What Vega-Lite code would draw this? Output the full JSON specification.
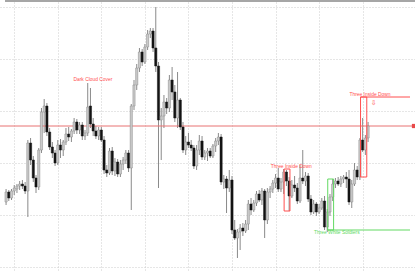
{
  "$schema": "https://vega.github.io/schema/vega-lite/v6.json",
  "width": 415,
  "height": 270,
  "autosize": {"type": "none"},
  "padding": {"left": 0, "top": 2, "right": 0, "bottom": 0},
  "background": "white",
  "config": {"view": {"stroke": null}, "font": "Liberation Sans"},
  "datasets": {
    "candles": [
      {"t":"2025-11-12 02:00","i":0,"o":4053,"h":4066,"l":4050,"c":4063},
      {"t":"2025-11-12 03:00","i":1,"o":4063,"h":4065,"l":4054,"c":4057},
      {"t":"2025-11-12 04:00","i":2,"o":4057,"h":4066,"l":4055,"c":4064},
      {"t":"2025-11-12 05:00","i":3,"o":4064,"h":4070,"l":4060,"c":4067},
      {"t":"2025-11-12 06:00","i":4,"o":4066,"h":4071,"l":4062,"c":4069},
      {"t":"2025-11-12 07:00","i":5,"o":4069,"h":4074,"l":4065,"c":4071},
      {"t":"2025-11-12 08:00","i":6,"o":4071,"h":4075,"l":4066,"c":4069},
      {"t":"2025-11-12 09:00","i":7,"o":4069,"h":4073,"l":4061,"c":4064},
      {"t":"2025-11-12 10:00","i":8,"o":4064,"h":4115,"l":4038,"c":4112},
      {"t":"2025-11-12 11:00","i":9,"o":4112,"h":4117,"l":4090,"c":4095},
      {"t":"2025-11-12 12:00","i":10,"o":4095,"h":4099,"l":4073,"c":4077},
      {"t":"2025-11-12 13:00","i":11,"o":4077,"h":4080,"l":4062,"c":4068},
      {"t":"2025-11-12 14:00","i":12,"o":4068,"h":4107,"l":4065,"c":4105},
      {"t":"2025-11-12 15:00","i":13,"o":4105,"h":4147,"l":4102,"c":4143},
      {"t":"2025-11-12 16:00","i":14,"o":4143,"h":4156,"l":4122,"c":4149},
      {"t":"2025-11-12 17:00","i":15,"o":4149,"h":4152,"l":4119,"c":4123},
      {"t":"2025-11-12 18:00","i":16,"o":4123,"h":4127,"l":4105,"c":4108},
      {"t":"2025-11-12 19:00","i":17,"o":4108,"h":4113,"l":4097,"c":4102},
      {"t":"2025-11-12 20:00","i":18,"o":4102,"h":4105,"l":4089,"c":4092},
      {"t":"2025-11-12 21:00","i":19,"o":4092,"h":4115,"l":4090,"c":4110},
      {"t":"2025-11-12 22:00","i":20,"o":4110,"h":4116,"l":4097,"c":4105},
      {"t":"2025-11-12 23:00","i":21,"o":4105,"h":4115,"l":4099,"c":4113},
      {"t":"2025-11-13 00:00","i":22,"o":4113,"h":4127,"l":4110,"c":4121},
      {"t":"2025-11-13 01:00","i":23,"o":4121,"h":4128,"l":4114,"c":4118},
      {"t":"2025-11-13 02:00","i":24,"o":4118,"h":4126,"l":4113,"c":4124},
      {"t":"2025-11-13 03:00","i":25,"o":4124,"h":4137,"l":4121,"c":4133},
      {"t":"2025-11-13 04:00","i":26,"o":4133,"h":4136,"l":4121,"c":4125},
      {"t":"2025-11-13 05:00","i":27,"o":4125,"h":4133,"l":4121,"c":4130},
      {"t":"2025-11-13 06:00","i":28,"o":4130,"h":4133,"l":4115,"c":4119},
      {"t":"2025-11-13 07:00","i":29,"o":4119,"h":4125,"l":4115,"c":4122},
      {"t":"2025-11-13 08:00","i":30,"o":4122,"h":4172,"l":4119,"c":4148},
      {"t":"2025-11-13 09:00","i":31,"o":4149,"h":4167,"l":4127,"c":4131},
      {"t":"2025-11-13 10:00","i":32,"o":4131,"h":4137,"l":4119,"c":4124},
      {"t":"2025-11-13 11:00","i":33,"o":4124,"h":4129,"l":4116,"c":4119},
      {"t":"2025-11-13 12:00","i":34,"o":4119,"h":4128,"l":4115,"c":4125},
      {"t":"2025-11-13 13:00","i":35,"o":4125,"h":4128,"l":4113,"c":4115},
      {"t":"2025-11-13 14:00","i":36,"o":4115,"h":4119,"l":4081,"c":4085},
      {"t":"2025-11-13 15:00","i":37,"o":4085,"h":4090,"l":4078,"c":4082},
      {"t":"2025-11-13 16:00","i":38,"o":4082,"h":4107,"l":4080,"c":4104},
      {"t":"2025-11-13 17:00","i":39,"o":4104,"h":4108,"l":4080,"c":4084},
      {"t":"2025-11-13 18:00","i":40,"o":4084,"h":4097,"l":4079,"c":4093},
      {"t":"2025-11-13 19:00","i":41,"o":4093,"h":4096,"l":4078,"c":4081},
      {"t":"2025-11-13 20:00","i":42,"o":4081,"h":4095,"l":4078,"c":4091},
      {"t":"2025-11-13 21:00","i":43,"o":4091,"h":4098,"l":4085,"c":4095},
      {"t":"2025-11-13 22:00","i":44,"o":4095,"h":4105,"l":4091,"c":4102},
      {"t":"2025-11-13 23:00","i":45,"o":4102,"h":4105,"l":4083,"c":4087},
      {"t":"2025-11-14 00:00","i":46,"o":4087,"h":4151,"l":4045,"c":4149},
      {"t":"2025-11-14 01:00","i":47,"o":4149,"h":4175,"l":4145,"c":4170},
      {"t":"2025-11-14 02:00","i":48,"o":4170,"h":4191,"l":4165,"c":4187},
      {"t":"2025-11-14 03:00","i":49,"o":4187,"h":4207,"l":4183,"c":4203},
      {"t":"2025-11-14 04:00","i":50,"o":4203,"h":4206,"l":4189,"c":4193},
      {"t":"2025-11-14 05:00","i":51,"o":4193,"h":4211,"l":4191,"c":4208},
      {"t":"2025-11-14 06:00","i":52,"o":4208,"h":4225,"l":4205,"c":4221},
      {"t":"2025-11-14 07:00","i":53,"o":4221,"h":4227,"l":4217,"c":4224},
      {"t":"2025-11-14 08:00","i":54,"o":4224,"h":4227,"l":4203,"c":4207},
      {"t":"2025-11-14 09:00","i":55,"o":4207,"h":4248,"l":4183,"c":4189},
      {"t":"2025-11-14 10:00","i":56,"o":4189,"h":4193,"l":4067,"c":4135},
      {"t":"2025-11-14 11:00","i":57,"o":4135,"h":4147,"l":4095,"c":4139},
      {"t":"2025-11-14 12:00","i":58,"o":4139,"h":4160,"l":4127,"c":4153},
      {"t":"2025-11-14 13:00","i":59,"o":4153,"h":4157,"l":4141,"c":4147},
      {"t":"2025-11-14 14:00","i":60,"o":4147,"h":4180,"l":4143,"c":4175},
      {"t":"2025-11-14 15:00","i":61,"o":4175,"h":4188,"l":4155,"c":4163},
      {"t":"2025-11-14 16:00","i":62,"o":4163,"h":4170,"l":4133,"c":4137},
      {"t":"2025-11-14 17:00","i":63,"o":4137,"h":4183,"l":4127,"c":4155},
      {"t":"2025-11-14 18:00","i":64,"o":4155,"h":4157,"l":4125,"c":4128},
      {"t":"2025-11-14 19:00","i":65,"o":4128,"h":4133,"l":4102,"c":4105},
      {"t":"2025-11-14 20:00","i":66,"o":4105,"h":4119,"l":4100,"c":4113},
      {"t":"2025-11-14 21:00","i":67,"o":4113,"h":4122,"l":4107,"c":4110},
      {"t":"2025-11-14 22:00","i":68,"o":4110,"h":4115,"l":4104,"c":4107},
      {"t":"2025-11-14 23:00","i":69,"o":4107,"h":4110,"l":4086,"c":4089},
      {"t":"2025-11-17 00:00","i":70,"o":4089,"h":4110,"l":4085,"c":4105},
      {"t":"2025-11-17 01:00","i":71,"o":4105,"h":4120,"l":4100,"c":4114},
      {"t":"2025-11-17 02:00","i":72,"o":4114,"h":4119,"l":4095,"c":4098},
      {"t":"2025-11-17 03:00","i":73,"o":4098,"h":4105,"l":4095,"c":4102},
      {"t":"2025-11-17 04:00","i":74,"o":4102,"h":4107,"l":4094,"c":4104},
      {"t":"2025-11-17 05:00","i":75,"o":4104,"h":4107,"l":4097,"c":4099},
      {"t":"2025-11-17 06:00","i":76,"o":4099,"h":4111,"l":4097,"c":4109},
      {"t":"2025-11-17 07:00","i":77,"o":4109,"h":4117,"l":4103,"c":4114},
      {"t":"2025-11-17 08:00","i":78,"o":4114,"h":4122,"l":4110,"c":4118},
      {"t":"2025-11-17 09:00","i":79,"o":4118,"h":4121,"l":4070,"c":4073},
      {"t":"2025-11-17 10:00","i":80,"o":4073,"h":4080,"l":4066,"c":4076},
      {"t":"2025-11-17 11:00","i":81,"o":4076,"h":4079,"l":4042,"c":4067},
      {"t":"2025-11-17 12:00","i":82,"o":4067,"h":4085,"l":4063,"c":4075},
      {"t":"2025-11-17 13:00","i":83,"o":4075,"h":4079,"l":4021,"c":4025},
      {"t":"2025-11-17 14:00","i":84,"o":4025,"h":4035,"l":4015,"c":4017},
      {"t":"2025-11-17 15:00","i":85,"o":4017,"h":4026,"l":3997,"c":4023},
      {"t":"2025-11-17 16:00","i":86,"o":4023,"h":4031,"l":4005,"c":4027},
      {"t":"2025-11-17 17:00","i":87,"o":4027,"h":4032,"l":4019,"c":4024},
      {"t":"2025-11-17 18:00","i":88,"o":4024,"h":4035,"l":4022,"c":4031},
      {"t":"2025-11-17 19:00","i":89,"o":4031,"h":4055,"l":4025,"c":4051},
      {"t":"2025-11-17 20:00","i":90,"o":4051,"h":4057,"l":4040,"c":4045},
      {"t":"2025-11-17 21:00","i":91,"o":4045,"h":4055,"l":4043,"c":4052},
      {"t":"2025-11-17 22:00","i":92,"o":4052,"h":4064,"l":4049,"c":4061},
      {"t":"2025-11-17 23:00","i":93,"o":4061,"h":4065,"l":4053,"c":4055},
      {"t":"2025-11-18 00:00","i":94,"o":4055,"h":4067,"l":4050,"c":4064},
      {"t":"2025-11-18 01:00","i":95,"o":4064,"h":4066,"l":4017,"c":4035},
      {"t":"2025-11-18 02:00","i":96,"o":4035,"h":4067,"l":4031,"c":4063},
      {"t":"2025-11-18 03:00","i":97,"o":4063,"h":4069,"l":4057,"c":4066},
      {"t":"2025-11-18 04:00","i":98,"o":4066,"h":4075,"l":4062,"c":4072},
      {"t":"2025-11-18 05:00","i":99,"o":4072,"h":4081,"l":4067,"c":4077},
      {"t":"2025-11-18 06:00","i":100,"o":4077,"h":4087,"l":4063,"c":4066},
      {"t":"2025-11-18 07:00","i":101,"o":4066,"h":4077,"l":4063,"c":4073},
      {"t":"2025-11-18 08:00","i":102,"o":4073,"h":4086,"l":4061,"c":4083},
      {"t":"2025-11-18 09:00","i":103,"o":4083,"h":4085,"l":4069,"c":4074},
      {"t":"2025-11-18 10:00","i":104,"o":4074,"h":4078,"l":4044,"c":4059},
      {"t":"2025-11-18 11:00","i":105,"o":4059,"h":4075,"l":4057,"c":4070},
      {"t":"2025-11-18 12:00","i":106,"o":4070,"h":4079,"l":4063,"c":4067},
      {"t":"2025-11-18 13:00","i":107,"o":4067,"h":4072,"l":4051,"c":4054},
      {"t":"2025-11-18 14:00","i":108,"o":4054,"h":4090,"l":4052,"c":4077},
      {"t":"2025-11-18 15:00","i":109,"o":4077,"h":4105,"l":4071,"c":4074},
      {"t":"2025-11-18 16:00","i":110,"o":4074,"h":4083,"l":4069,"c":4079},
      {"t":"2025-11-18 17:00","i":111,"o":4079,"h":4082,"l":4053,"c":4056},
      {"t":"2025-11-18 18:00","i":112,"o":4056,"h":4060,"l":4040,"c":4043},
      {"t":"2025-11-18 19:00","i":113,"o":4043,"h":4055,"l":4041,"c":4051},
      {"t":"2025-11-18 20:00","i":114,"o":4051,"h":4053,"l":4039,"c":4043},
      {"t":"2025-11-18 21:00","i":115,"o":4043,"h":4051,"l":4041,"c":4047},
      {"t":"2025-11-18 22:00","i":116,"o":4047,"h":4057,"l":4045,"c":4054},
      {"t":"2025-11-18 23:00","i":117,"o":4054,"h":4059,"l":4025,"c":4028},
      {"t":"2025-11-19 00:00","i":118,"o":4028,"h":4046,"l":4023,"c":4043},
      {"t":"2025-11-19 01:00","i":119,"o":4043,"h":4061,"l":4039,"c":4058},
      {"t":"2025-11-19 02:00","i":120,"o":4058,"h":4076,"l":4054,"c":4071},
      {"t":"2025-11-19 03:00","i":121,"o":4071,"h":4077,"l":4067,"c":4074},
      {"t":"2025-11-19 04:00","i":122,"o":4074,"h":4078,"l":4069,"c":4071},
      {"t":"2025-11-19 05:00","i":123,"o":4071,"h":4079,"l":4068,"c":4076},
      {"t":"2025-11-19 06:00","i":124,"o":4076,"h":4080,"l":4072,"c":4078},
      {"t":"2025-11-19 07:00","i":125,"o":4078,"h":4083,"l":4067,"c":4076},
      {"t":"2025-11-19 08:00","i":126,"o":4076,"h":4085,"l":4050,"c":4053},
      {"t":"2025-11-19 09:00","i":127,"o":4053,"h":4075,"l":4047,"c":4071},
      {"t":"2025-11-19 10:00","i":128,"o":4071,"h":4092,"l":4069,"c":4085},
      {"t":"2025-11-19 11:00","i":129,"o":4085,"h":4089,"l":4075,"c":4078},
      {"t":"2025-11-19 12:00","i":130,"o":4078,"h":4117,"l":4075,"c":4115},
      {"t":"2025-11-19 13:00","i":131,"o":4115,"h":4137,"l":4103,"c":4105},
      {"t":"2025-11-19 14:00","i":132,"o":4105,"h":4120,"l":4100,"c":4117},
      {"t":"2025-11-19 15:00","i":133,"o":4117,"h":4133,"l":4113,"c":4129}
    ],
    "boxes": [
      {"pattern":"Three Inside Down","type":"bear","i":102.15,"i2":104.3,"p":4086,"p2":4044},
      {"pattern":"Three White Soldiers","type":"bull","i":118.18,"i2":120.33,"p":4076,"p2":4025},
      {"pattern":"Three Inside Down","type":"bear","i":130.23,"i2":132.52,"p":4158,"p2":4078}
    ],
    "ext": [
      {"type":"bull","i":118.18,"i2":148.4,"p":4025},
      {"type":"bear","i":130.23,"i2":148.4,"p":4158}
    ],
    "notes": [
      {"text":"Dark Cloud Cover","type":"bear","i":31.9,"p":4175},
      {"text":"Three Inside Down","type":"bear","i":104.8,"p":4088},
      {"text":"Three White Soldiers","type":"bull","i":121.5,"p":4022.5},
      {"text":"Three Inside Down","type":"bear","i":133.7,"p":4160}
    ],
    "arrow": [{"text":"⇩","type":"bear","i":135.1,"p":4152}],
    "price": [{"name":"bid","i":148.4,"p":4129}]
  },
  "layer": [
    {
      "data": {"name": "candles"},
      "mark": {"type": "rule", "color": "#8a8a8a", "strokeWidth": 1},
      "encoding": {
        "x": {
          "field": "i", "type": "quantitative",
          "scale": {"domain": [-0.394, 148.4], "nice": false, "zero": false},
          "axis": {
            "orient": "bottom", "title": null,
            "values": [-5, 3, 11, 19, 27, 35, 43, 51, 59, 67, 75, 83, 91, 99, 107, 115, 123, 131],
            "labelExpr": "datum.value < 0 ? '11 Nov 2025' : ['12 Nov 05:00','12 Nov 13:00','12 Nov 21:00','13 Nov 05:00','13 Nov 13:00','13 Nov 21:00','14 Nov 05:00','14 Nov 13:00','14 Nov 21:00','17 Nov 05:00','17 Nov 13:00','17 Nov 21:00','18 Nov 05:00','18 Nov 13:00','18 Nov 21:00','19 Nov 05:00','19 Nov 13:00'][round((datum.value - 3) / 8)]",
            "labelAlign": "left", "labelBaseline": "top", "labelFontSize": 3.4, "labelColor": "#222",
            "labelPadding": 0.5, "labelOverlap": false, "labelFlush": false, "labelBound": false,
            "tickSize": 1.5, "tickColor": "#555", "domainColor": "#444", "domainWidth": 1,
            "grid": true, "gridColor": "#cccccc", "gridDash": [1, 2], "gridWidth": 1
          }
        },
        "y": {
          "field": "l", "type": "quantitative",
          "scale": {"domain": [3983, 4253], "nice": false, "zero": false},
          "axis": {
            "orient": "right", "title": null,
            "values": [3988, 4001, 4014, 4027, 4040, 4053, 4066, 4079, 4092, 4105, 4118, 4131, 4144, 4157, 4170, 4183, 4196, 4209, 4222, 4235, 4248],
            "format": ".2f", "labelFontSize": 3.4, "labelColor": "#222", "labelPadding": 0.5,
            "labelOverlap": false, "labelFlush": false, "labelBound": false,
            "tickSize": 2, "tickColor": "#555", "domainColor": "#444", "domainWidth": 1,
            "grid": true, "gridColor": "#cccccc", "gridDash": [1, 2], "gridWidth": 1
          }
        },
        "y2": {"field": "h"}
      }
    },
    {
      "data": {"name": "price"},
      "mark": {"type": "rule", "color": "#e87272", "strokeWidth": 1},
      "encoding": {
        "y": {"field": "p", "type": "quantitative", "scale": {"domain": [3983, 4253], "nice": false, "zero": false}}
      }
    },
    {
      "data": {"name": "candles"},
      "mark": {"type": "bar", "size": 2.2, "strokeWidth": 0.5},
      "encoding": {
        "x": {"field": "i", "type": "quantitative", "scale": {"domain": [-0.394, 148.4], "nice": false, "zero": false}},
        "y": {"field": "o", "type": "quantitative", "scale": {"domain": [3983, 4253], "nice": false, "zero": false}},
        "y2": {"field": "c"},
        "fill": {"condition": {"test": "datum.c >= datum.o", "value": "#cacaca"}, "value": "#141414"},
        "stroke": {"condition": {"test": "datum.c >= datum.o", "value": "#8a8a8a"}, "value": "#141414"}
      }
    },
    {
      "data": {"name": "boxes"},
      "mark": {"type": "rect", "filled": false, "strokeWidth": 1},
      "encoding": {
        "x": {"field": "i", "type": "quantitative", "scale": {"domain": [-0.394, 148.4], "nice": false, "zero": false}},
        "x2": {"field": "i2"},
        "y": {"field": "p", "type": "quantitative", "scale": {"domain": [3983, 4253], "nice": false, "zero": false}},
        "y2": {"field": "p2"},
        "color": {"field": "type", "type": "nominal", "scale": {"domain": ["bear", "bull"], "range": ["#ff4f4f", "#62d962"]}, "legend": null}
      }
    },
    {
      "data": {"name": "ext"},
      "mark": {"type": "rule", "strokeWidth": 1},
      "encoding": {
        "x": {"field": "i", "type": "quantitative", "scale": {"domain": [-0.394, 148.4], "nice": false, "zero": false}},
        "x2": {"field": "i2"},
        "y": {"field": "p", "type": "quantitative", "scale": {"domain": [3983, 4253], "nice": false, "zero": false}},
        "color": {"field": "type", "type": "nominal", "legend": null}
      }
    },
    {
      "data": {"name": "notes"},
      "mark": {"type": "text", "fontSize": 4.9, "align": "center", "baseline": "middle", "font": "Liberation Sans"},
      "encoding": {
        "x": {"field": "i", "type": "quantitative", "scale": {"domain": [-0.394, 148.4], "nice": false, "zero": false}},
        "y": {"field": "p", "type": "quantitative", "scale": {"domain": [3983, 4253], "nice": false, "zero": false}},
        "text": {"field": "text"},
        "color": {"field": "type", "type": "nominal", "legend": null}
      }
    },
    {
      "data": {"name": "arrow"},
      "mark": {"type": "text", "fontSize": 7, "align": "center", "baseline": "middle", "font": "DejaVu Sans"},
      "encoding": {
        "x": {"field": "i", "type": "quantitative", "scale": {"domain": [-0.394, 148.4], "nice": false, "zero": false}},
        "y": {"field": "p", "type": "quantitative", "scale": {"domain": [3983, 4253], "nice": false, "zero": false}},
        "text": {"field": "text"},
        "color": {"field": "type", "type": "nominal", "legend": null}
      }
    },
    {
      "data": {"name": "price"},
      "mark": {"type": "point", "shape": "square", "filled": true, "size": 18, "opacity": 1, "color": "#e84a4a", "xOffset": 4, "clip": false},
      "encoding": {
        "x": {"field": "i", "type": "quantitative", "scale": {"domain": [-0.394, 148.4], "nice": false, "zero": false}},
        "y": {"field": "p", "type": "quantitative", "scale": {"domain": [3983, 4253], "nice": false, "zero": false}}
      }
    },
    {
      "data": {"values": [{"edge": "top"}]},
      "mark": {"type": "rule", "color": "#a6a6a6", "strokeWidth": 2, "yOffset": -1, "clip": false},
      "encoding": {
        "x": {"datum": -0.394, "type": "quantitative", "scale": {"domain": [-0.394, 148.4], "nice": false, "zero": false}},
        "x2": {"datum": 151},
        "y": {"datum": 4253, "type": "quantitative", "scale": {"domain": [3983, 4253], "nice": false, "zero": false}}
      }
    }
  ]
}
